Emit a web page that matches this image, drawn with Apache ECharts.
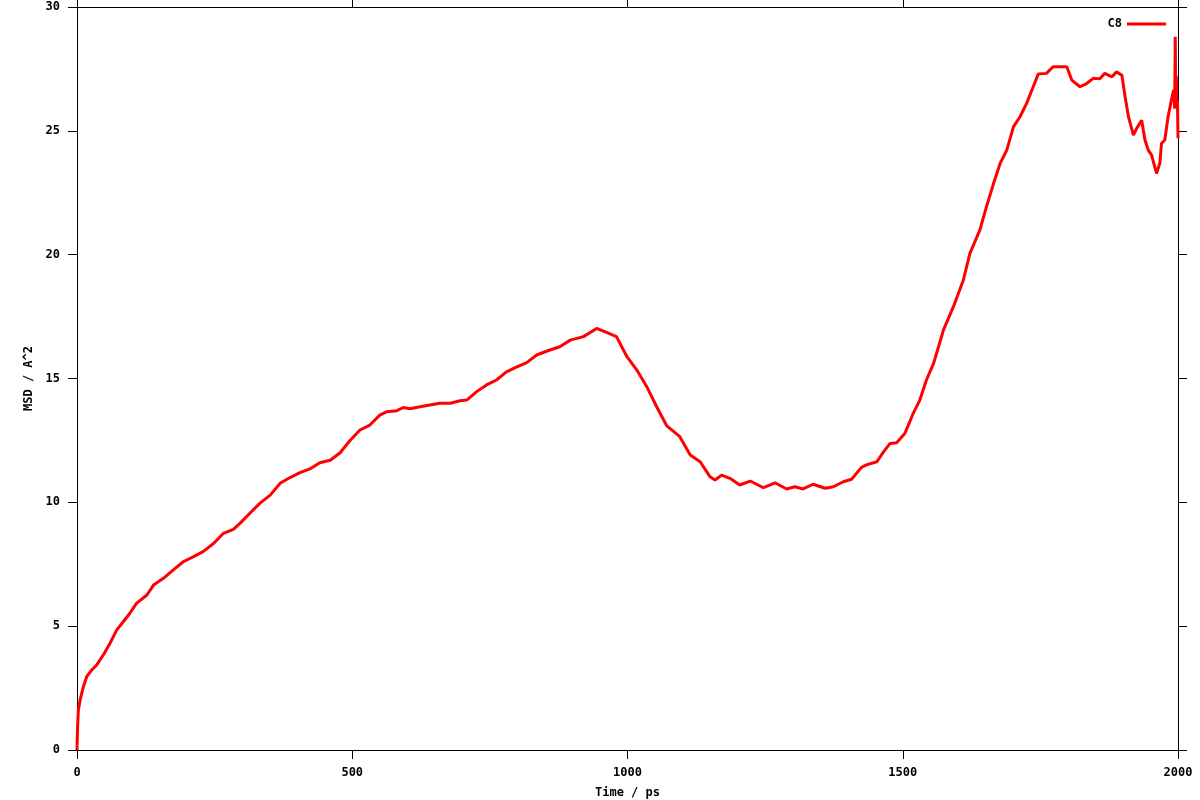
<!DOCTYPE html>
<html>
<head>
<meta charset="utf-8">
<script src="https://cdn.jsdelivr.net/npm/echarts@6/dist/echarts.min.js"></script>
<style>html,body{margin:0;padding:0;background:#fff}#c{width:1200px;height:800px}</style>
</head>
<body>
<div id="c"></div>
<script>
const seriesName = 'C8';
const xTitle = 'Time / ps';
const yTitle = 'MSD / A^2';
const timePs = [0,1,2.4,5.5,11.5,17.6,26.7,35.7,47.8,60,72,84,96,108,127,139,157,175,193,211,229,248,266,284,296,314,332,351,369,387,405,423,441,460,478,496,514,532,550,563,581,593,605,623,641,659,678,696,708,726,744,762,780,799,817,835,859,877,896,920,944,962,980,999,1017,1035,1053,1071,1095,1114,1132,1150,1159,1171,1186,1204,1223,1247,1268,1289,1304,1319,1337,1359,1374,1392,1407,1425,1434,1453,1465,1477,1489,1504,1519,1531,1543,1556,1574,1592,1610,1622,1640,1652,1665,1677,1689,1701,1713,1725,1737,1746,1761,1773,1786,1798,1807,1822,1834,1846,1858,1867,1880,1888,1898,1904,1910,1919,1925,1934,1940,1946,1952,1961,1967,1970,1976,1982,1988,1992,1994,1995,1996,1997,1998,1999,2000];
const msd = [0,0.9,1.6,2.0,2.55,2.96,3.23,3.43,3.84,4.31,4.84,5.18,5.52,5.92,6.26,6.66,6.93,7.27,7.60,7.80,8.01,8.34,8.75,8.91,9.15,9.56,9.96,10.29,10.77,11.0,11.2,11.35,11.6,11.7,12.0,12.5,12.92,13.12,13.52,13.66,13.70,13.83,13.78,13.86,13.93,14.0,14.0,14.10,14.13,14.47,14.74,14.94,15.27,15.47,15.64,15.95,16.15,16.28,16.55,16.69,17.02,16.86,16.69,15.88,15.34,14.67,13.86,13.1,12.65,11.91,11.64,11.03,10.90,11.10,10.97,10.70,10.86,10.59,10.79,10.54,10.63,10.54,10.73,10.57,10.63,10.83,10.93,11.41,11.51,11.64,12.04,12.38,12.41,12.79,13.59,14.13,14.94,15.61,16.96,17.90,18.97,20.05,20.99,21.93,22.88,23.69,24.22,25.16,25.57,26.11,26.78,27.29,27.32,27.59,27.59,27.59,27.05,26.78,26.91,27.12,27.1,27.32,27.18,27.38,27.25,26.37,25.57,24.83,25.10,25.43,24.63,24.22,24.02,23.28,23.69,24.49,24.63,25.57,26.24,26.65,25.9,28.8,26.0,27.2,25.9,26.2,24.7];
const xTicks = [0,500,1000,1500,2000];
const yTicks = [0,5,10,15,20,25,30];

const font = 'DejaVu Sans Mono';
const lbl = {fontFamily: font, fontWeight: 'bold', fontSize: 12, color: '#000'};
const line = {show: true, onZero: false, lineStyle: {color: '#000', width: 1}};
const tick = {show: true, length: 9, lineStyle: {color: '#000', width: 1}};
const plain = v => String(v);

const chart = echarts.init(document.getElementById('c'), null, {renderer: 'canvas'});
chart.setOption({
  animation: false,
  backgroundColor: '#fff',
  grid: {left: 77, right: 22, top: 7, bottom: 50, containLabel: false, outerBoundsMode: 'none'},
  legend: {
    data: [seriesName], right: 29, top: 13, align: 'right', icon: 'rect',
    itemWidth: 39, itemHeight: 3, itemGap: 7, textStyle: lbl
  },
  xAxis: [
    {type: 'value', min: xTicks[0], max: xTicks[xTicks.length-1], interval: 500, position: 'bottom',
     name: xTitle, nameLocation: 'middle', nameGap: 37, nameTextStyle: lbl,
     axisLine: line, axisTick: tick, splitLine: {show: false},
     axisLabel: Object.assign({margin: 17, formatter: plain}, lbl)},
    {type: 'value', min: xTicks[0], max: xTicks[xTicks.length-1], interval: 500, position: 'top',
     axisLine: line, axisTick: tick, splitLine: {show: false}, axisLabel: {show: false}}
  ],
  yAxis: [
    {type: 'value', min: yTicks[0], max: yTicks[yTicks.length-1], interval: 5, position: 'left',
     name: yTitle, nameLocation: 'middle', nameGap: 42, nameRotate: 90, nameTextStyle: lbl,
     axisLine: line, axisTick: tick, splitLine: {show: false},
     axisLabel: Object.assign({margin: 17, formatter: plain}, lbl)},
    {type: 'value', min: yTicks[0], max: yTicks[yTicks.length-1], interval: 5, position: 'right',
     axisLine: line, axisTick: tick, splitLine: {show: false}, axisLabel: {show: false}}
  ],
  series: [{
    name: seriesName, type: 'line', xAxisIndex: 0, yAxisIndex: 0,
    data: timePs.map((t, i) => [t, msd[i]]),
    showSymbol: false, symbol: 'none',
    lineStyle: {color: '#ff0000', width: 3},
    itemStyle: {color: '#ff0000'}
  }]
});
</script>
</body>
</html>
